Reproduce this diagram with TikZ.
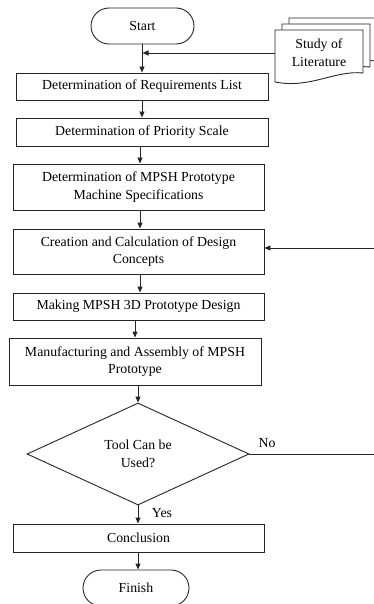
\documentclass[tikz,border=0pt]{standalone}
\usepackage{fontspec}
\setmainfont{Liberation Serif}
\usetikzlibrary{shapes.geometric,arrows.meta}

\tikzset{
  txt/.style={font=\fontsize{13.8}{17.5}\selectfont, text=black, align=center},
  procbox/.style={txt, draw=black!85, line width=0.9pt, rectangle, inner sep=0pt},
  termbox/.style={txt, draw=black!85, line width=0.9pt, rectangle,
                  rounded corners=18pt, minimum width=103pt, minimum height=36pt, inner sep=0pt},
  decbox/.style={txt, draw=black!85, line width=0.9pt, diamond, inner sep=0pt,
                 minimum width=222pt, minimum height=102pt},
  page/.style={draw=black!85, line width=0.9pt, fill=white},
  flow/.style={draw=black!85, line width=0.9pt, -{Triangle[length=6pt,width=5pt]}},
  plain/.style={draw=black!85, line width=0.9pt},
  lbl/.style={txt, inner sep=0pt}
}

\begin{document}
\begin{tikzpicture}[x=1pt,y=-1pt]
  \useasboundingbox (0,0) rectangle (374,604);
  \clip (0,0) rectangle (374,604);
  \fill[white] (0,0) rectangle (374,604);

  % stacked document: literature sources
  \foreach \dx/\dy in {14/-12, 7/-6, 0/0}{
    \path[page] ([shift={(\dx,\dy)}]275,30) -- ([shift={(\dx,\dy)}]363,30)
      -- ([shift={(\dx,\dy)}]363,73)
      .. controls ([shift={(\dx,\dy)}]335,70) and ([shift={(\dx,\dy)}]310,89) .. ([shift={(\dx,\dy)}]275,82)
      -- cycle;
  }
  \node[lbl] (lit) at (319,52.5) {Study of\\Literature};
  \coordinate (litin) at (275,53);

  % main flow
  \node[termbox] (st) at (142.5,26) {Start};
  \node[procbox, minimum width=252pt, minimum height=27pt] (b1) at (142,86.5)
    {Determination of Requirements List};
  \node[procbox, minimum width=252pt, minimum height=28pt] (b2) at (142,132)
    {Determination of Priority Scale};
  \node[procbox, minimum width=251pt, minimum height=46pt] (b3) at (138.5,187)
    {Determination of MPSH Prototype\\Machine Specifications};
  \node[procbox, minimum width=251pt, minimum height=45pt] (b4) at (138.5,251.5)
    {Creation and Calculation of Design\\Concepts};
  \node[procbox, minimum width=251pt, minimum height=27pt] (b5) at (138.5,306.5)
    {Making MPSH 3D Prototype Design};
  \node[procbox, minimum width=252pt, minimum height=47pt] (b6) at (135,361.5)
    {Manufacturing and Assembly of MPSH\\Prototype};
  \node[decbox] (dec) at (138,454) {Tool Can be\\Used?};
  \node[procbox, minimum width=251pt, minimum height=28pt] (b7) at (138.5,538)
    {Conclusion};
  \node[termbox, minimum width=106pt] (fin) at (136,588) {Finish};

  % connectors
  \draw[flow] (st.south -| 142,0) -- (b1.north -| 142,0);
  \draw[flow] (litin) -- (litin -| st.south);
  \draw[flow] (b1.south -| 142,0) -- (b2.north -| 142,0);
  \draw[flow] (b2.south -| 140,0) -- (b3.north -| 140,0);
  \draw[flow] (b3.south -| 140,0) -- (b4.north -| 140,0);
  \draw[flow] (b4.south -| 140,0) -- (b5.north -| 140,0);
  \draw[flow] (b5.south -| 135,0) -- (b6.north -| 135,0);
  \draw[flow] (b6.south -| 138,0) -- (dec.north);
  \draw[flow] (dec.south) -- (b7.north -| 138,0);
  \draw[flow] (b7.south -| 138,0) -- (fin.north -| 138,0);

  % rework loop back to design concepts
  \draw[flow] (dec.east) -- (400,454) -- (400,248) -- (b4.east |- 0,248);

  \node[lbl] at (267,443) {No};
  \node[lbl] at (162,513) {Yes};
\end{tikzpicture}
\end{document}
